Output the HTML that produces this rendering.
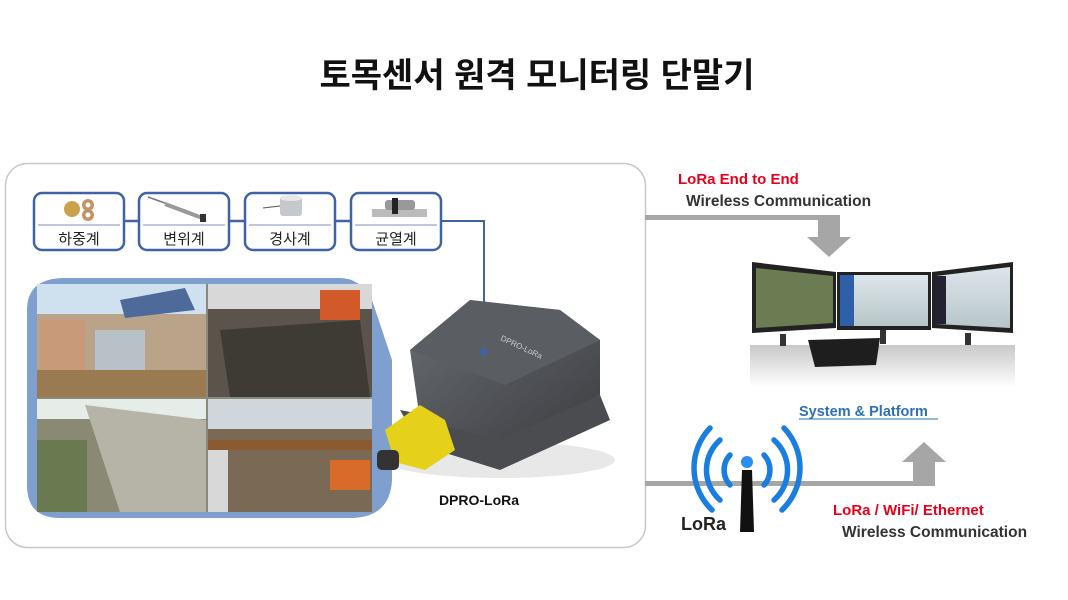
<!DOCTYPE html>
<html><head><meta charset="utf-8"><style>
html,body{margin:0;padding:0;background:#fff;}
svg{display:block;}
text{font-family:"Liberation Sans","Noto Sans CJK KR",sans-serif;}
</style></head><body>
<svg width="1068" height="600" viewBox="0 0 1068 600" xmlns="http://www.w3.org/2000/svg">
<defs>
<linearGradient id="dev" x1="0" y1="0" x2="1" y2="1"><stop offset="0" stop-color="#6a6d72"/><stop offset="1" stop-color="#3c3e42"/></linearGradient>
<linearGradient id="mon" x1="0" y1="0" x2="0" y2="1"><stop offset="0" stop-color="#dde6ea"/><stop offset="1" stop-color="#b8c6c9"/></linearGradient>
<linearGradient id="refl" x1="0" y1="0" x2="0" y2="1"><stop offset="0" stop-color="#c8c8c8"/><stop offset="1" stop-color="#fff"/></linearGradient>
</defs>
<text x="537" y="87" text-anchor="middle" font-size="34" font-weight="bold" fill="#111">토목센서 원격 모니터링 단말기</text>

<rect x="5.5" y="163.5" width="640" height="384" rx="22" fill="#fff" stroke="#c8c8c8" stroke-width="1.5"/>

<rect x="645" y="215" width="195" height="5" fill="#a6a6a6"/>
<polygon points="818,215 840,215 840,237 851,237 829,257 807,237 818,237" fill="#a6a6a6"/>
<rect x="645" y="481" width="290" height="5" fill="#a6a6a6"/>
<polygon points="913,486 935,486 935,462 946,462 924,442 902,462 913,462" fill="#a6a6a6"/>

<g stroke="#3f63a5" stroke-width="2.5" fill="#fff">
<line x1="124" y1="221" x2="139" y2="221"/>
<line x1="229" y1="221" x2="245" y2="221"/>
<line x1="335" y1="221" x2="351" y2="221"/>
<polyline points="441,221 484,221 484,352" fill="none" stroke-width="2"/>
<rect x="34" y="193" width="90" height="57" rx="8"/>
<rect x="139" y="193" width="90" height="57" rx="8"/>
<rect x="245" y="193" width="90" height="57" rx="8"/>
<rect x="351" y="193" width="90" height="57" rx="8"/>
</g>
<g stroke="#7d93c0" stroke-width="1">
<line x1="38" y1="225" x2="120" y2="225"/><line x1="143" y1="225" x2="225" y2="225"/>
<line x1="249" y1="225" x2="331" y2="225"/><line x1="355" y1="225" x2="437" y2="225"/>
</g>
<g>
<circle cx="72" cy="209" r="8" fill="#c9a24a"/><circle cx="88" cy="205" r="6" fill="#c09468"/><circle cx="88" cy="215" r="6" fill="#c09468"/>
<circle cx="88" cy="205" r="2.5" fill="#fff"/><circle cx="88" cy="215" r="2.5" fill="#fff"/>
<line x1="148" y1="197" x2="190" y2="212" stroke="#777" stroke-width="1.5"/><line x1="165" y1="204" x2="205" y2="219" stroke="#999" stroke-width="4"/><rect x="200" y="214" width="6" height="8" fill="#333"/>
<rect x="280" y="196" width="22" height="20" rx="3" fill="#c5c8cc"/><ellipse cx="291" cy="198" rx="11" ry="3" fill="#e8e8e8"/><line x1="263" y1="208" x2="280" y2="206" stroke="#555"/>
<rect x="372" y="209" width="55" height="8" fill="#bbb"/><rect x="385" y="200" width="30" height="10" rx="3" fill="#999"/><rect x="392" y="198" width="6" height="16" fill="#222"/>
</g>
<g font-size="15" fill="#222" text-anchor="middle">
<text x="79" y="244">하중계</text><text x="184" y="244">변위계</text><text x="290" y="244">경사계</text><text x="396" y="244">균열계</text>
</g>

<path d="M65,278 H340 Q360,278 372,300 L392,360 L392,480 Q390,518 350,518 H60 Q27,518 27,485 V310 Q27,278 65,278 Z" fill="#7f9fcf"/>
<path d="M55,284 H365 L370,300 V505 Q368,512 355,512 H50 Q37,512 37,498 V300 Q37,284 55,284 Z" fill="#8a8a7a"/>
<rect x="37" y="284" width="169" height="113" fill="#b9a48a"/>
<rect x="37" y="284" width="169" height="30" fill="#cfe0ef"/>
<polygon points="120,300 185,288 195,310 125,318" fill="#4e6a9a"/>
<rect x="95" y="330" width="50" height="45" fill="#b8c0c8"/>
<rect x="40" y="320" width="45" height="50" fill="#c89a7a"/>
<rect x="37" y="370" width="169" height="27" fill="#9a7a50"/>
<rect x="208" y="284" width="164" height="113" fill="#5a544c"/>
<rect x="208" y="284" width="164" height="25" fill="#d8d8d8"/>
<rect x="320" y="290" width="40" height="30" fill="#d25a2a"/>
<polygon points="220,330 360,320 370,397 230,397" fill="#3e3a34"/>
<rect x="37" y="399" width="169" height="113" fill="#8a8a74"/>
<rect x="37" y="399" width="169" height="20" fill="#e6ece8"/>
<polygon points="85,405 206,420 206,512 120,512" fill="#b6b4a6"/>
<rect x="37" y="440" width="50" height="72" fill="#6a7a50"/>
<rect x="208" y="399" width="164" height="113" fill="#7a6a55"/>
<rect x="208" y="399" width="164" height="30" fill="#cfd6dc"/>
<rect x="208" y="440" width="164" height="10" fill="#8a5a30"/>
<rect x="208" y="450" width="20" height="62" fill="#d8d8d8"/>
<rect x="330" y="460" width="40" height="30" fill="#d86a2a"/>

<ellipse cx="500" cy="460" rx="115" ry="18" fill="#d8d8d8" opacity="0.6"/>
<polygon points="400,410 420,445 500,470 610,420 600,395 500,430" fill="#4a4c50"/>
<polygon points="410,350 470,300 560,310 600,340 600,395 500,440 420,420" fill="url(#dev)"/>
<polygon points="410,350 470,300 560,310 600,340 505,385" fill="#5a5d62"/>
<circle cx="484" cy="352" r="4" fill="#3f63a5"/>
<text x="500" y="340" font-size="8" fill="#ccc" transform="rotate(25 500 340)">DPRO-LoRa</text>
<polygon points="385,430 420,405 445,420 455,450 425,470 395,462" fill="#e6d11a"/>
<rect x="377" y="450" width="22" height="20" rx="5" fill="#333"/>
<text x="479" y="505" font-size="14" font-weight="bold" fill="#111" text-anchor="middle">DPRO-LoRa</text>

<text x="678" y="184" font-size="15" font-weight="bold" fill="#e8001a">LoRa End to End</text>
<text x="686" y="206" font-size="15.5" font-weight="bold" fill="#333">Wireless Communication</text>
<text x="833" y="515" font-size="15" font-weight="bold" fill="#e8001a">LoRa / WiFi/ Ethernet</text>
<text x="842" y="537" font-size="15.5" font-weight="bold" fill="#333">Wireless Communication</text>

<rect x="750" y="345" width="265" height="42" fill="url(#refl)"/>
<polygon points="752,262 836,272 836,328 752,333" fill="#222"/>
<polygon points="756,268 833,276 833,323 756,328" fill="#6b7c52"/>
<rect x="837" y="272" width="94" height="58" fill="#222"/>
<rect x="840" y="275" width="88" height="51" fill="url(#mon)"/>
<rect x="840" y="275" width="14" height="51" fill="#2f5fa8"/>
<polygon points="932,272 1013,262 1013,333 932,328" fill="#222"/>
<polygon points="936,276 1010,267 1010,328 936,324" fill="url(#mon)"/>
<rect x="936" y="276" width="10" height="48" fill="#223"/>
<rect x="780" y="334" width="6" height="12" fill="#333"/><rect x="880" y="330" width="6" height="14" fill="#333"/><rect x="965" y="333" width="6" height="12" fill="#333"/>
<polygon points="808,340 880,338 876,365 815,367" fill="#1e1e1e"/>

<text x="799" y="416" font-size="14.5" font-weight="bold" fill="#2e6fb8">System &amp; Platform</text>
<line x1="799" y1="419" x2="938" y2="419" stroke="#2e6fb8" stroke-width="1"/>

<g fill="none" stroke="#1a7de0" stroke-width="5.5" stroke-linecap="round">
<path d="M730,455 A22,22 0 0 0 730,485"/><path d="M764,455 A22,22 0 0 1 764,485"/>
<path d="M720,440 A40,40 0 0 0 720,500"/><path d="M774,440 A40,40 0 0 1 774,500"/>
<path d="M710,428 A58,58 0 0 0 712,510"/><path d="M784,428 A58,58 0 0 1 782,510"/>
</g>
<polygon points="742,470 752,470 754,532 740,532" fill="#111"/>
<circle cx="747" cy="462" r="6" fill="#2a8ef0"/>
<text x="681" y="530" font-size="18" font-weight="bold" fill="#222">LoRa</text>
</svg>
</body></html>
